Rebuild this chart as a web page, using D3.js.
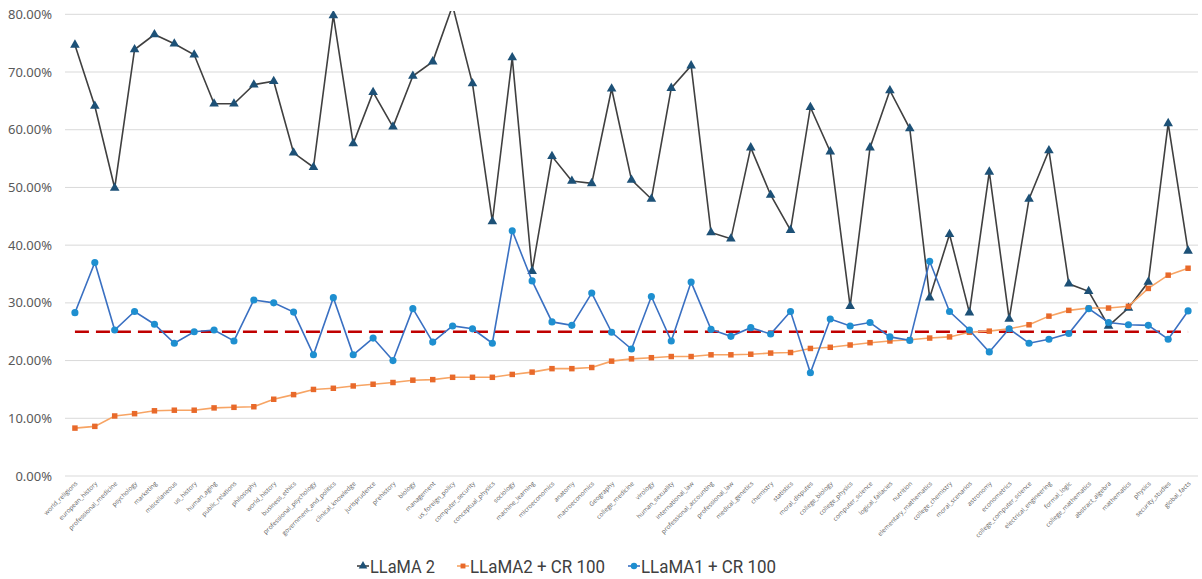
<!DOCTYPE html>
<html>
<head>
<meta charset="utf-8">
<script src="https://cdn.jsdelivr.net/npm/d3@7"></script>
<style>
  body { margin: 0; background: #fff; }
  svg { display: block; }
</style>
</head>
<body>
<div id="chart"></div>
<script>
const categories = ["world_religions","european_history","professional_medicine","psychology","marketing","miscellaneous","us_history","human_aging","public_relations","philosophy","world_history","business_ethics","professional_psychology","government_and_politics","clinical_knowledge","jurisprudence","prehistory","biology","management","us_foreign_policy","computer_security","conceptual_physics","sociology","machine_learning","microeconomics","anatomy","macroeconomics","Geography","college_medicine","virology","human_sexuality","international_law","professional_accounting","professional_law","medical_genetics","chemistry","statistics","moral_disputes","college_biology","college_physics","computer_science","logical_fallacies","nutrition","elementary_mathematics","college_chemistry","moral_scenarios","astronomy","econometrics","college_computer_science","electrical_engineering","formal_logic","college_mathematics","abstract_algebra","mathematics","physics","security_studies","global_facts"];

// accuracy in %
const llama2 = [74.7,64.1,49.9,73.9,76.5,74.9,73.0,64.5,64.5,67.8,68.4,56.0,53.5,79.8,57.6,66.5,60.5,69.3,71.8,81.5,68.0,44.1,72.5,35.5,55.4,51.1,50.7,67.1,51.3,48.0,67.2,71.1,42.2,41.1,56.9,48.7,42.6,63.9,56.2,29.4,56.9,66.8,60.2,30.9,41.9,28.3,52.7,27.2,48.0,56.4,33.3,32.0,26.0,29.1,33.6,61.1,39.0];
const llama2cr = [8.3,8.6,10.4,10.8,11.3,11.4,11.4,11.8,11.9,12.0,13.3,14.1,15.0,15.2,15.6,15.9,16.2,16.6,16.7,17.1,17.1,17.1,17.6,18.0,18.6,18.6,18.8,19.9,20.3,20.5,20.7,20.7,21.0,21.0,21.1,21.3,21.4,22.1,22.3,22.7,23.1,23.4,23.6,23.9,24.1,24.9,25.1,25.5,26.2,27.7,28.7,29.1,29.1,29.4,32.5,34.8,36.0];
const llama1cr = [28.3,37.0,25.3,28.5,26.3,23.0,25.0,25.3,23.4,30.5,30.0,28.4,21.0,30.9,21.0,23.9,20.0,29.0,23.2,26.0,25.5,23.0,42.5,33.8,26.7,26.1,31.7,24.9,22.0,31.1,23.4,33.6,25.4,24.2,25.7,24.6,28.5,17.9,27.2,26.0,26.6,24.1,23.5,37.2,28.5,25.3,21.5,25.5,23.0,23.7,24.7,29.0,26.6,26.2,26.1,23.7,28.6];
const chanceLevel = 25;
const yTicks = [0,10,20,30,40,50,60,70,80];

const W = 1202, H = 579;
const plotL = 65, plotR = 1198, plotT = 14.3, plotB = 476;

const svg = d3.select("#chart").append("svg").attr("width", W).attr("height", H);

const x = d3.scaleBand().domain(categories).range([plotL, plotR]);
const cx = d => x(d) + x.bandwidth() / 2;
const y = d3.scaleLinear().domain([0, 80]).range([plotB, plotT]);

// gridlines
svg.append("g")
  .selectAll("line")
  .data(yTicks)
  .join("line")
  .attr("x1", plotL).attr("x2", plotR)
  .attr("y1", d => y(d)).attr("y2", d => y(d))
  .attr("stroke", "#d9d9d9").attr("stroke-width", 1);

// y labels
svg.append("g")
  .selectAll("text")
  .data(yTicks)
  .join("text")
  .attr("x", 52).attr("y", d => y(d))
  .attr("dy", "0.35em")
  .attr("text-anchor", "end")
  .style("font-family", "Noto Sans, sans-serif")
  .style("font-size", "13px")
  .style("fill", "#595959")
  .text(d => d3.format(".2f")(d) + "%");

// x labels
svg.append("g")
  .selectAll("text")
  .data(categories)
  .join("text")
  .attr("transform", d => `translate(${cx(d) + 3},${plotB + 8}) rotate(-45)`)
  .attr("text-anchor", "end")
  .style("font-family", "Open Sans, sans-serif")
  .style("font-size", "6.3px")
  .style("fill", "#606060")
  .text(d => d);

svg.append("clipPath").attr("id", "plot")
  .append("rect").attr("x", 0).attr("y", 11).attr("width", W).attr("height", H);

const plot = svg.append("g").attr("clip-path", "url(#plot)");

const line = d3.line().x((d, i) => cx(categories[i])).y(d => y(d));

// chance line
plot.append("line")
  .attr("x1", cx(categories[0])).attr("x2", cx(categories[categories.length - 1]))
  .attr("y1", y(chanceLevel)).attr("y2", y(chanceLevel))
  .attr("stroke", "#c00000").attr("stroke-width", 2.5)
  .attr("stroke-dasharray", "14,7");

const series = [
  { name: "LLaMA 2", data: llama2, line: "#404040", mark: "#1d5177", shape: d3.symbolTriangle, size: 40, tw: 65 },
  { name: "LLaMA2 + CR 100", data: llama2cr, line: "#f7a464", mark: "#e8692a", shape: d3.symbolSquare, size: 30, tw: 135 },
  { name: "LLaMA1 + CR 100", data: llama1cr, line: "#3a70c2", mark: "#1e8fd0", shape: d3.symbolCircle, size: 40, tw: 135 }
];

series.forEach(s => {
  plot.append("path")
    .attr("d", line(s.data))
    .attr("fill", "none")
    .attr("stroke", s.line)
    .attr("stroke-width", 1.6);
  plot.append("g")
    .selectAll("path")
    .data(s.data)
    .join("path")
    .attr("transform", (d, i) => `translate(${cx(categories[i])},${y(d)})`)
    .attr("d", d3.symbol().type(s.shape).size(s.size))
    .attr("fill", s.mark);
});

// legend
const legendX = [357, 457, 628];
const legend = svg.append("g");
series.forEach((s, i) => {
  const g = legend.append("g").attr("transform", `translate(${legendX[i]},566)`);
  g.append("line").attr("x1", 0).attr("x2", 12).attr("y1", 0).attr("y2", 0)
    .attr("stroke", s.line).attr("stroke-width", 1.6);
  g.append("path").attr("transform", "translate(6,0)")
    .attr("d", d3.symbol().type(s.shape).size(s.size * 0.8))
    .attr("fill", s.mark);
  g.append("text")
    .attr("x", 13).attr("y", 0).attr("dy", "0.36em")
    .attr("textLength", s.tw)
    .attr("lengthAdjust", "spacingAndGlyphs")
    .style("font-family", "Roboto, sans-serif")
    .style("font-size", "19px")
    .style("fill", "#404040")
    .text(s.name);
});
</script>
</body>
</html>
